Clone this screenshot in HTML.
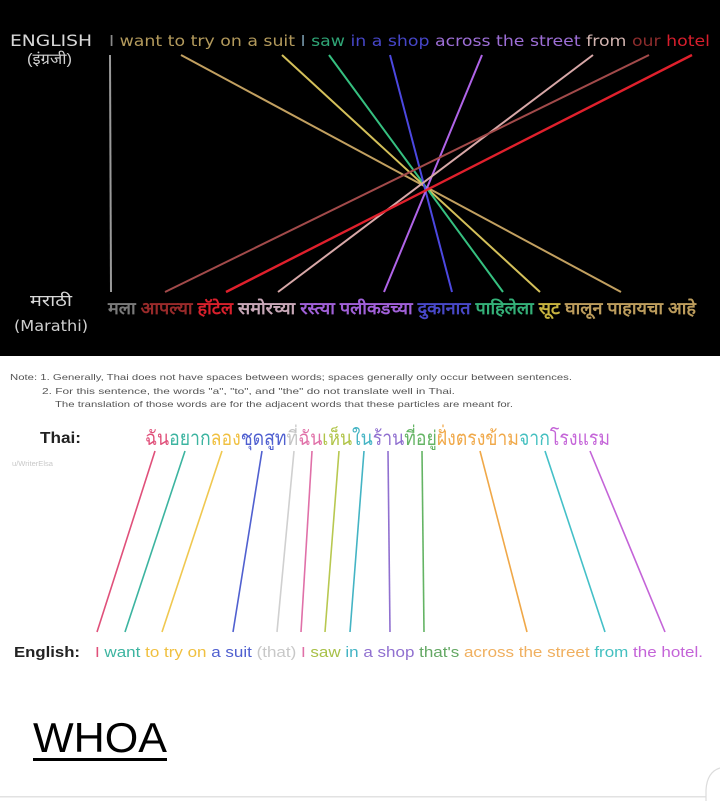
<!DOCTYPE html>
<html>
<head>
<meta charset="utf-8">
<style>
html,body{margin:0;padding:0;background:#fff;}
body{width:720px;height:801px;overflow:hidden;position:relative;}
svg{position:absolute;left:0;top:0;}
</style>
</head>
<body>
<svg width="720" height="801" viewBox="0 0 720 801" xmlns="http://www.w3.org/2000/svg">
  <rect x="0" y="0" width="720" height="356" fill="#000"/>
  <rect x="0" y="356" width="720" height="445" fill="#fff"/>

  <!-- Top labels -->
  <text x="10" y="46" font-family="DejaVu Sans, Liberation Sans, sans-serif" font-size="16" fill="#d8d8d8" textLength="82" lengthAdjust="spacingAndGlyphs">ENGLISH</text>
  <text x="27" y="64" font-family="Liberation Sans, sans-serif" font-size="15" fill="#d0d0d0" textLength="45" lengthAdjust="spacingAndGlyphs">(इंग्रजी)</text>

  <text x="109" y="46" font-family="DejaVu Sans, Liberation Sans, sans-serif" font-size="15" textLength="601" lengthAdjust="spacingAndGlyphs"><tspan fill="#8a8a8a">I </tspan><tspan fill="#b39a5c">want to try on a suit </tspan><tspan fill="#6f8ea0">I </tspan><tspan fill="#2fa576">saw </tspan><tspan fill="#4646c8">in a shop </tspan><tspan fill="#9d6ed6">across the street </tspan><tspan fill="#d2b4b0">from </tspan><tspan fill="#8c2c2c">our </tspan><tspan fill="#d81e2c">hotel</tspan></text>

  <!-- Top lines -->
  <g stroke-width="2" fill="none">
    <line x1="110" y1="55" x2="111" y2="292" stroke="#9a9a9a"/>
    <line x1="181" y1="55" x2="621" y2="292" stroke="#c2a060"/>
    <line x1="282" y1="55" x2="540" y2="292" stroke="#d4c05a"/>
    <line x1="329" y1="55" x2="503" y2="292" stroke="#36c080"/>
    <line x1="390" y1="55" x2="452" y2="292" stroke="#4c48e0"/>
    <line x1="482" y1="55" x2="384" y2="292" stroke="#b064e8"/>
    <line x1="593" y1="55" x2="278" y2="292" stroke="#d8a8a8"/>
    <line x1="649" y1="55" x2="165" y2="292" stroke="#a24a4a"/>
    <line x1="692" y1="55" x2="226" y2="292" stroke="#e0202c" stroke-width="2.4"/>
  </g>

  <!-- Marathi labels -->
  <text x="30" y="306" font-family="Liberation Sans, sans-serif" font-size="16" fill="#d8d8d8" textLength="42" lengthAdjust="spacingAndGlyphs">मराठी</text>
  <text x="14" y="331" font-family="DejaVu Sans, Liberation Sans, sans-serif" font-size="15" fill="#d0d0d0" textLength="74" lengthAdjust="spacingAndGlyphs">(Marathi)</text>

  <text x="108" y="314" font-family="Liberation Sans, sans-serif" font-size="17" font-weight="bold" textLength="588" lengthAdjust="spacingAndGlyphs"><tspan fill="#7a7a7a">मला </tspan><tspan fill="#982a2a">आपल्या </tspan><tspan fill="#d8202c">हॉटेल </tspan><tspan fill="#c8a8b8">समोरच्या </tspan><tspan fill="#a060d8">रस्त्या पलीकडच्या </tspan><tspan fill="#4848c8">दुकानात </tspan><tspan fill="#34b078">पाहिलेला </tspan><tspan fill="#c8b440">सूट </tspan><tspan fill="#bc9c5c">घालून पाहायचा आहे</tspan></text>

  <!-- Notes -->
  <g font-family="Liberation Sans, sans-serif" font-size="8.5" fill="#555">
    <text x="10" y="380" textLength="562" lengthAdjust="spacingAndGlyphs">Note: 1. Generally, Thai does not have spaces between words; spaces generally only occur between sentences.</text>
    <text x="42" y="394" textLength="413" lengthAdjust="spacingAndGlyphs">2. For this sentence, the words "a", "to", and "the" do not translate well in Thai.</text>
    <text x="55" y="407" textLength="458" lengthAdjust="spacingAndGlyphs">The translation of those words are for the adjacent words that these particles are meant for.</text>
  </g>

  <!-- Thai -->
  <text x="40" y="443" font-family="Liberation Sans, sans-serif" font-size="16" font-weight="bold" fill="#222" textLength="41" lengthAdjust="spacingAndGlyphs">Thai:</text>
  <text x="12" y="466" font-family="Liberation Sans, sans-serif" font-size="7" fill="#c8c8c8" textLength="41" lengthAdjust="spacingAndGlyphs">u/WriterElsa</text>

  <text x="145" y="445" font-family="Liberation Sans, sans-serif" font-size="20" textLength="465" lengthAdjust="spacingAndGlyphs"><tspan fill="#e0507a">ฉัน</tspan><tspan fill="#3cb4a0">อยาก</tspan><tspan fill="#f0c040">ลอง</tspan><tspan fill="#5060d0">ชุดสูท</tspan><tspan fill="#c4c4c4">ที่</tspan><tspan fill="#e070a8">ฉัน</tspan><tspan fill="#b0c448">เห็น</tspan><tspan fill="#44b4c4">ใน</tspan><tspan fill="#9070d0">ร้าน</tspan><tspan fill="#64b464">ที่อยู่</tspan><tspan fill="#f0a848">ฝั่งตรงข้าม</tspan><tspan fill="#44c0c0">จาก</tspan><tspan fill="#c464d8">โรงแรม</tspan></text>

  <!-- Thai-English lines -->
  <g stroke-width="1.6" fill="none">
    <line x1="155" y1="451" x2="97" y2="632" stroke="#e0507a"/>
    <line x1="185" y1="451" x2="125" y2="632" stroke="#3cb4a0"/>
    <line x1="222" y1="451" x2="162" y2="632" stroke="#f0c850"/>
    <line x1="262" y1="451" x2="233" y2="632" stroke="#5060d0"/>
    <line x1="294" y1="451" x2="277" y2="632" stroke="#d0d0d0"/>
    <line x1="312" y1="451" x2="301" y2="632" stroke="#e070a8"/>
    <line x1="339" y1="451" x2="325" y2="632" stroke="#b8c850"/>
    <line x1="364" y1="451" x2="350" y2="632" stroke="#44b4c4"/>
    <line x1="388" y1="451" x2="390" y2="632" stroke="#9070d0"/>
    <line x1="422" y1="451" x2="424" y2="632" stroke="#64b464"/>
    <line x1="480" y1="451" x2="527" y2="632" stroke="#f0a848"/>
    <line x1="545" y1="451" x2="605" y2="632" stroke="#44c0c8"/>
    <line x1="590" y1="451" x2="665" y2="632" stroke="#c464d8"/>
  </g>

  <!-- English -->
  <text x="14" y="657" font-family="Liberation Sans, sans-serif" font-size="15" font-weight="bold" fill="#222" textLength="66" lengthAdjust="spacingAndGlyphs">English:</text>
  <text x="95" y="657" font-family="Liberation Sans, sans-serif" font-size="14.5" textLength="608" lengthAdjust="spacingAndGlyphs"><tspan fill="#e0507a">I </tspan><tspan fill="#3cb4a0">want </tspan><tspan fill="#f0c040">to try on </tspan><tspan fill="#5060d0">a suit </tspan><tspan fill="#c8c8c8">(that) </tspan><tspan fill="#e070a8">I </tspan><tspan fill="#a8c048">saw </tspan><tspan fill="#44b4c4">in </tspan><tspan fill="#9070d0">a shop </tspan><tspan fill="#64a864">that's </tspan><tspan fill="#f0b060">across the street </tspan><tspan fill="#44c0c0">from </tspan><tspan fill="#c464d8">the hotel.</tspan></text>

  <!-- WHOA -->
  <text x="33" y="752" font-family="Liberation Sans, Arial, sans-serif" font-size="42" fill="#000" textLength="134" lengthAdjust="spacingAndGlyphs">WHOA</text>
  <rect x="33" y="758" width="134" height="3" fill="#000"/>

  <!-- bottom border & card corner -->
  <rect x="0" y="796" width="706" height="1.5" fill="#e2e2e2"/>
  <path d="M720 768 Q707 772 706 790 L706 801" stroke="#dcdcdc" stroke-width="1.2" fill="none"/>
</svg>
</body>
</html>
